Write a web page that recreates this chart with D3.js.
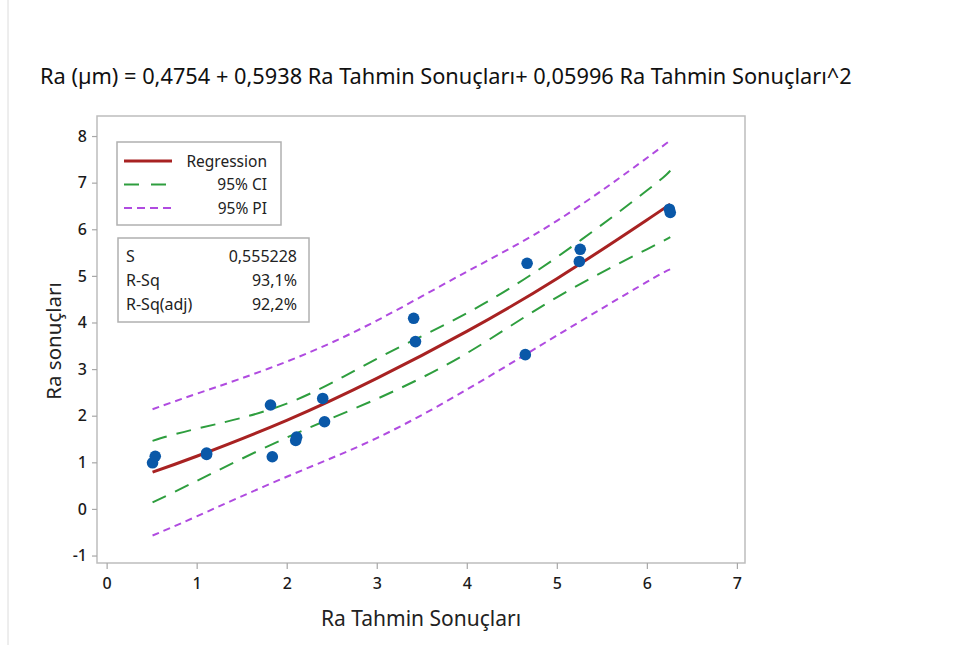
<!DOCTYPE html>
<html>
<head>
<meta charset="utf-8">
<title>fitted-line-plot</title>
<style>
body { margin: 0; background: #fff; font-family: "Noto Sans", "Open Sans", sans-serif; }
</style>
</head>
<body>
<script src="https://cdn.jsdelivr.net/npm/d3@7"></script>
<script>
// observed points (Ra Tahmin Sonuçları, Ra sonuçları)
var predX = [0.51, 0.54, 1.11, 1.11, 1.82, 1.84, 2.11, 2.10, 2.40, 2.42, 3.41, 3.43, 4.65, 4.67, 5.26, 5.25, 6.25, 6.26];
var actualY = [0.99, 1.13, 1.20, 1.17, 2.23, 1.12, 1.54, 1.47, 2.37, 1.87, 4.09, 3.59, 3.31, 5.27, 5.57, 5.31, 6.43, 6.36];

// fitted curve and bands, read at these x positions
var fitX    = [0.51, 1, 2, 3, 4, 5, 6, 6.26];
var fitLine = [0.79, 1.13, 1.90, 2.80, 3.81, 4.94, 6.20, 6.54];
var ciUpper = [1.46, 1.72, 2.26, 3.22, 4.20, 5.40, 6.83, 7.26];
var ciLower = [0.14, 0.60, 1.53, 2.36, 3.34, 4.54, 5.57, 5.83];
var piUpper = [2.14, 2.47, 3.16, 4.04, 5.09, 6.18, 7.53, 7.91];
var piLower = [-0.57, -0.16, 0.69, 1.52, 2.56, 3.72, 4.87, 5.14];

var xTicks = [0, 1, 2, 3, 4, 5, 6, 7];
var yTicks = [-1, 0, 1, 2, 3, 4, 5, 6, 7, 8];

var legendNames = ["Regression", "95% CI", "95% PI"];
var statNames = ["S", "R-Sq", "R-Sq(adj)"];
var statValues = ["0,555228", "93,1%", "92,2%"];

var titleText = "Ra (µm) = 0,4754 + 0,5938 Ra Tahmin Sonuçları+ 0,05996 Ra Tahmin Sonuçları^2";

var W = 957, H = 645;
var plot = { left: 97, top: 116, right: 745, bottom: 563 };

var svg = d3.select("body").append("svg")
    .attr("width", W)
    .attr("height", H);

// faint border of the original picture
svg.append("line")
    .attr("x1", 8).attr("x2", 8).attr("y1", 0).attr("y2", H)
    .attr("stroke", "#dcdcdc").attr("stroke-width", 1);

var x = d3.scaleLinear().domain([-0.107, 7.09]).range([plot.left, plot.right]);
var y = d3.scaleLinear().domain([-1.16, 8.43]).range([plot.bottom, plot.top]);

// title, fitted to the width in the reference
var title = svg.append("text")
    .attr("x", 40)
    .attr("y", 84)
    .style("font-size", "18px")
    .attr("fill", "#111")
    .text(titleText);
var tw = title.node().getComputedTextLength();
title.style("font-size", (18 * 812 / tw) + "px");

// frame
svg.append("rect")
    .attr("x", plot.left).attr("y", plot.top)
    .attr("width", plot.right - plot.left)
    .attr("height", plot.bottom - plot.top)
    .attr("fill", "none")
    .attr("stroke", "#bdbdbd")
    .attr("stroke-width", 1.5);

var fmt = function (d) { return String(d); };
var xAxis = svg.append("g")
    .attr("transform", "translate(0," + plot.bottom + ")")
    .call(d3.axisBottom(x).tickValues(xTicks).tickSize(6).tickPadding(9).tickFormat(fmt));
var yAxis = svg.append("g")
    .attr("transform", "translate(" + plot.left + ",0)")
    .call(d3.axisLeft(y).tickValues(yTicks).tickSize(5).tickPadding(5).tickFormat(fmt));
[xAxis, yAxis].forEach(function (a) {
    a.select(".domain").remove();
    a.selectAll(".tick line").attr("stroke", "#a8a8a8").attr("stroke-width", 1.2);
    a.selectAll(".tick text")
        .style("font-family", "\"Noto Sans\", sans-serif")
        .style("font-size", "16px")
        .style("font-weight", "500")
        .attr("fill", "#1a1a1a");
});

function band(vals) {
    return fitX.map(function (d, i) { return [d, vals[i]]; });
}
var line = d3.line()
    .x(function (d) { return x(d[0]); })
    .y(function (d) { return y(d[1]); })
    .curve(d3.curveNatural);

var green = "#2e9e3e", purple = "#b04be0", red = "#a82222", blue = "#0a58a8";

[piUpper, piLower].forEach(function (v) {
    svg.append("path").datum(band(v))
        .attr("d", line).attr("fill", "none")
        .attr("stroke", purple).attr("stroke-width", 2)
        .attr("stroke-dasharray", "7,5");
});
[ciUpper, ciLower].forEach(function (v) {
    svg.append("path").datum(band(v))
        .attr("d", line).attr("fill", "none")
        .attr("stroke", green).attr("stroke-width", 2)
        .attr("stroke-dasharray", "15,10");
});
svg.append("path").datum(band(fitLine))
    .attr("d", line).attr("fill", "none")
    .attr("stroke", red).attr("stroke-width", 3);

svg.selectAll(".pt")
    .data(predX)
    .enter()
    .append("circle")
    .attr("class", "pt")
    .attr("cx", function (d) { return x(d); })
    .attr("cy", function (d, i) { return y(actualY[i]); })
    .attr("r", 5.8)
    .attr("fill", blue);

// legend box
var leg = svg.append("g");
leg.append("rect")
    .attr("x", 117).attr("y", 142).attr("width", 164).attr("height", 83)
    .attr("fill", "#fff").attr("stroke", "#b0b0b0").attr("stroke-width", 1.5);
var legStyles = [
    { c: red, w: 3, dash: null },
    { c: green, w: 2, dash: "15,12,15,6,3,20" },
    { c: purple, w: 2, dash: "8,5" }
];
legendNames.forEach(function (n, i) {
    var ly = 161 + i * 23.5;
    leg.append("line")
        .attr("x1", 124).attr("x2", 172).attr("y1", ly).attr("y2", ly)
        .attr("stroke", legStyles[i].c).attr("stroke-width", legStyles[i].w)
        .attr("stroke-dasharray", legStyles[i].dash);
    leg.append("text")
        .attr("x", 267).attr("y", ly + 5.5)
        .attr("text-anchor", "end")
        .style("font-size", "15.5px").attr("fill", "#222")
        .text(n);
});

// statistics box
var st = svg.append("g");
st.append("rect")
    .attr("x", 118).attr("y", 238).attr("width", 191).attr("height", 84)
    .attr("fill", "#fff").attr("stroke", "#b0b0b0").attr("stroke-width", 1.5);
statNames.forEach(function (n, i) {
    var sy = 262 + i * 24;
    st.append("text")
        .attr("x", 126).attr("y", sy)
        .style("font-size", "16px").attr("fill", "#222")
        .text(n);
    st.append("text")
        .attr("x", 297).attr("y", sy)
        .attr("text-anchor", "end")
        .style("font-size", "16px").attr("fill", "#222")
        .text(statValues[i]);
});

// axis titles
svg.append("text")
    .attr("x", 421).attr("y", 626)
    .attr("text-anchor", "middle")
    .style("font-size", "21px").attr("fill", "#222")
    .text("Ra Tahmin Sonuçları");
svg.append("text")
    .attr("transform", "translate(61,341) rotate(-90)")
    .attr("text-anchor", "middle")
    .style("font-size", "20.5px").attr("fill", "#222")
    .text("Ra sonuçları");
</script>
</body>
</html>
